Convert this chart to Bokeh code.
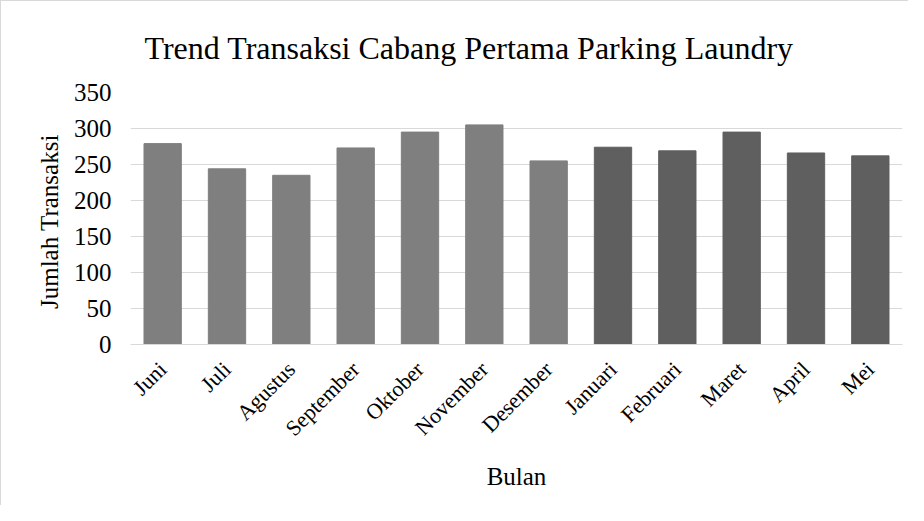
from bokeh.plotting import figure
from bokeh.models import ColumnDataSource, FactorRange, Range1d, FixedTicker, Title
from bokeh.embed import file_html
from bokeh.resources import INLINE
import math

months = ["Juni", "Juli", "Agustus", "September", "Oktober", "November",
          "Desember", "Januari", "Februari", "Maret", "April", "Mei"]
transaksi = [279, 244, 235, 273, 295, 305, 255, 274, 269, 295, 266, 262]
y_ticks = [0, 50, 100, 150, 200, 250, 300, 350]

LIGHT = "#7f7f7f"
DARK = "#5f5f5f"
colors = [LIGHT if i < 7 else DARK for i in range(len(months))]

FONT = "Liberation Serif"

source = ColumnDataSource(dict(month=months, value=transaksi, color=colors))

p = figure(
    width=908, height=505,
    x_range=FactorRange(*months),
    y_range=Range1d(0, 350),
    output_backend="svg",
    toolbar_location=None,
    min_border_left=129, min_border_right=7,
    min_border_top=90, min_border_bottom=162,
    outline_line_color=None,
)
p.styles = {"border-left": "1px solid #d9d9d9", "border-top": "1px solid #d9d9d9"}

p.title = Title(text="Trend Transaksi Cabang Pertama Parking Laundry",
                align="left", offset=14, text_font=FONT,
                text_font_size="32px", text_font_style="normal",
                text_color="#000000", standoff=53)

p.vbar(x="month", top="value", width=0.58, source=source,
       fill_color="color", line_color="color")

p.xgrid.grid_line_color = None
p.ygrid.grid_line_color = "#d9d9d9"
p.ygrid.grid_line_width = 1

p.yaxis.ticker = FixedTicker(ticks=y_ticks)
p.yaxis.axis_line_color = None
p.yaxis.major_label_standoff = 19
p.yaxis.axis_label = "Jumlah  Transaksi"
p.yaxis.axis_label_standoff = 8

p.xaxis.axis_line_color = "#d9d9d9"
p.xaxis.major_label_orientation = math.pi / 4
p.xaxis.major_label_standoff = 21
p.xaxis.axis_label = "Bulan"
p.xaxis.axis_label_standoff = 10

for ax in (p.xaxis, p.yaxis):
    ax.major_tick_line_color = None
    ax.minor_tick_line_color = None
    ax.major_tick_out = 0
    ax.major_tick_in = 0
    ax.minor_tick_out = 0
    ax.minor_tick_in = 0
    ax.major_label_text_font = FONT
    ax.major_label_text_color = "#000000"
    ax.axis_label_text_font = FONT
    ax.axis_label_text_font_size = "25px"
    ax.axis_label_text_font_style = "normal"
    ax.axis_label_text_color = "#000000"

p.yaxis.major_label_text_font_size = "25px"
p.xaxis.major_label_text_font_size = "22px"

open("out.html", "w").write(file_html(p, INLINE))
